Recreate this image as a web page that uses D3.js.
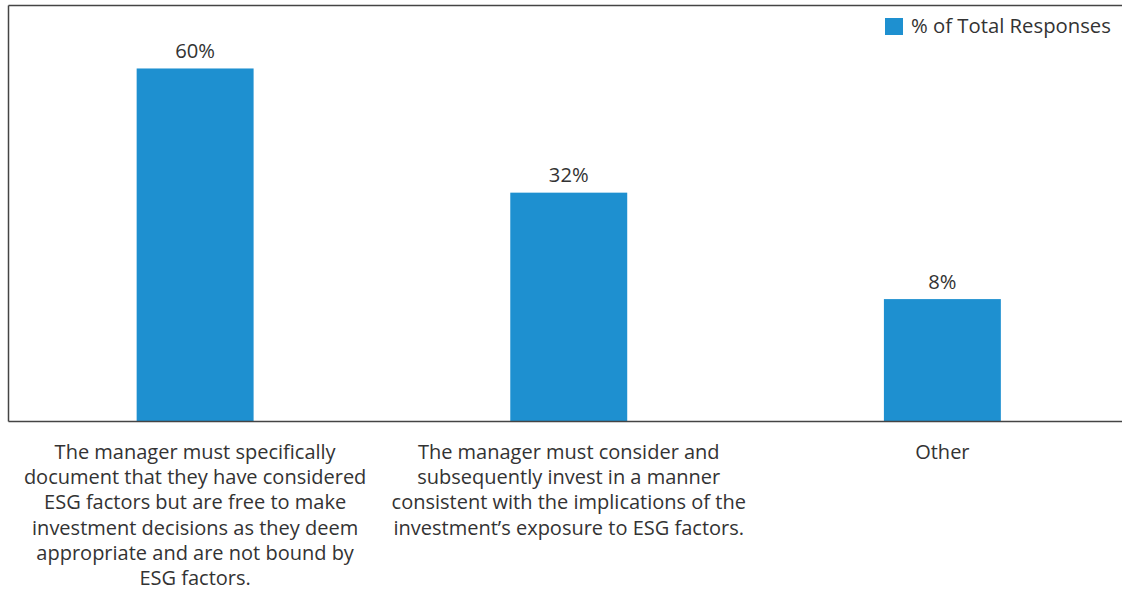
<!DOCTYPE html>
<html>
<head>
<meta charset="utf-8">
<script src="https://cdn.jsdelivr.net/npm/d3@7"></script>
<style>
  html, body { margin: 0; padding: 0; background: #fff; }
  svg { display: block; }
  text { font-family: "Open Sans", "Noto Sans", sans-serif; fill: #333; }
</style>
</head>
<body>
<svg id="chart" width="1122" height="591"></svg>
<script>
// ---- data ----
const categories = ["A", "B", "C"];
const categoryLines = [
  ["The manager must specifically", "document that they have considered", "ESG factors but are free to make", "investment decisions as they deem", "appropriate and are not bound by", "ESG factors."],
  ["The manager must consider and", "subsequently invest in a manner", "consistent with the implications of the", "investment\u2019s exposure to ESG factors."],
  ["Other"]
];
const values = [60, 32, 8];
const valueLabels = ["60%", "32%", "8%"];
const seriesName = "% of Total Responses";
const barColor = "#1e90d0";

// ---- layout ----
const svg = d3.select("#chart");
const plotLeft = 8.5, plotRight = 1129, plotTop = 5.5, plotBottom = 421.5;

const x = d3.scaleBand().domain(categories).range([plotLeft, plotRight]).paddingInner(0.687).paddingOuter(0.343);
const y = d3.scaleLinear().domain([-19.6, 74.2]).range([plotBottom, plotTop]);

// frame: left and top lines
svg.append("line").attr("x1", plotLeft).attr("x2", plotLeft).attr("y1", plotTop).attr("y2", plotBottom)
  .attr("stroke", "#444").attr("stroke-width", 1.5);
svg.append("line").attr("x1", plotLeft).attr("x2", 1122).attr("y1", plotTop).attr("y2", plotTop)
  .attr("stroke", "#444").attr("stroke-width", 1.5);

// bars
svg.selectAll("rect.bar").data(values).join("rect").attr("class", "bar")
  .attr("x", (d, i) => x(categories[i]))
  .attr("width", x.bandwidth())
  .attr("y", d => y(d))
  .attr("height", d => y.range()[0] - y(d))
  .attr("fill", barColor);

// bottom axis line
svg.append("line").attr("x1", plotLeft).attr("x2", 1122).attr("y1", plotBottom).attr("y2", plotBottom)
  .attr("stroke", "#444").attr("stroke-width", 1.5);

// value labels
svg.selectAll("text.val").data(values).join("text").attr("class", "val")
  .attr("x", (d, i) => x(categories[i]) + x.bandwidth() / 2)
  .attr("y", d => y(d) - 10.5)
  .attr("text-anchor", "middle")
  .attr("font-size", 20.2)
  .text((d, i) => valueLabels[i]);

// category labels
categoryLines.forEach((lines, i) => {
  const cx = x(categories[i]) + x.bandwidth() / 2;
  const t = svg.append("text")
    .attr("x", cx)
    .attr("y", 459)
    .attr("text-anchor", "middle")
    .attr("font-size", 20);
  lines.forEach((ln, j) => {
    t.append("tspan").attr("x", cx)
      .attr("dy", j === 0 ? 0 : 25.2).text(ln);
  });
});

// legend
svg.append("rect").attr("x", 885).attr("y", 18).attr("width", 18).attr("height", 17).attr("fill", barColor);
svg.append("text").attr("x", 911).attr("y", 33).attr("font-size", 20.3).text(seriesName);
</script>
</body>
</html>
